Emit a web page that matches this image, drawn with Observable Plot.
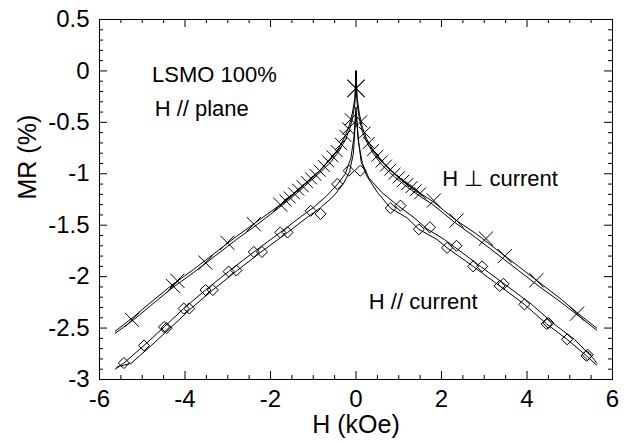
<!DOCTYPE html>
<html>
<head>
<meta charset="utf-8">
<script src="https://cdn.jsdelivr.net/npm/d3@7"></script>
<script src="https://cdn.jsdelivr.net/npm/@observablehq/plot@0.6"></script>
<style>
  html, body { margin: 0; padding: 0; background: #fff; }
  #chart svg { display: block; }
</style>
</head>
<body>
<div id="chart"></div>
<script>
// ---- Data ----
// H ⊥ current, sweep A
const perpAx = [-5.63,-5.2,-4.8,-4.3,-3.8,-3.3,-2.8,-2.3,-1.8,-1.5,-1.2,-0.9,-0.6,-0.4,-0.25,-0.15,-0.08,-0.03,0,0.03,0.08,0.15,0.25,0.4,0.6,0.9,1.2,1.5,1.8,2.3,2.8,3.3,3.8,4.3,4.8,5.2,5.63];
const perpAy = [-2.53,-2.39,-2.25,-2.08,-1.93,-1.77,-1.61,-1.46,-1.31,-1.21,-1.10,-0.99,-0.86,-0.75,-0.63,-0.52,-0.40,-0.27,-0.02,-0.27,-0.42,-0.55,-0.66,-0.77,-0.88,-1.00,-1.10,-1.19,-1.27,-1.44,-1.58,-1.74,-1.90,-2.06,-2.22,-2.36,-2.50];
// H ⊥ current, sweep B
const perpBx = [-5.63,-5.2,-4.8,-4.3,-3.8,-3.3,-2.8,-2.3,-1.8,-1.5,-1.2,-0.9,-0.6,-0.4,-0.25,-0.15,-0.08,-0.03,0,0.03,0.08,0.15,0.25,0.4,0.6,0.9,1.2,1.5,1.8,2.3,2.8,3.3,3.8,4.3,4.8,5.2,5.63];
const perpBy = [-2.55,-2.42,-2.28,-2.11,-1.96,-1.80,-1.64,-1.49,-1.33,-1.23,-1.12,-1.01,-0.89,-0.78,-0.67,-0.57,-0.46,-0.33,-0.17,-0.33,-0.47,-0.59,-0.69,-0.80,-0.91,-1.03,-1.13,-1.22,-1.30,-1.47,-1.62,-1.78,-1.94,-2.10,-2.25,-2.38,-2.52];
// H ⊥ current markers (×): sparse outer ones, dense inner ones
const perpSx = [-5.24,-4.28,-4.18,-3.52,-3.01,-2.39,-1.77,1.82,2.35,3.04,3.48,4.22,5.17];
const perpSy = [-2.42,-2.09,-2.04,-1.865,-1.67,-1.49,-1.30,-1.26,-1.455,-1.63,-1.80,-2.035,-2.36];
const perpDx = [-1.65,-1.55,-1.45,-1.35,-1.25,-1.15,-1.05,-0.95,-0.85,-0.75,-0.65,-0.55,-0.45,-0.35,-0.25,-0.18,-0.12,0.12,0.2,0.3,0.4,0.5,0.6,0.7,0.8,0.9,1.0,1.1,1.2,1.3,1.4,1.5];
const perpDy = [-1.26,-1.23,-1.19,-1.155,-1.12,-1.08,-1.045,-1.01,-0.97,-0.925,-0.88,-0.83,-0.78,-0.71,-0.63,-0.56,-0.47,-0.49,-0.60,-0.70,-0.77,-0.825,-0.88,-0.92,-0.96,-1.0,-1.035,-1.07,-1.10,-1.13,-1.16,-1.19];
const peakX = [0];
const peakY = [-0.17];

// H // current, sweep A
const parAx = [-5.63,-5.43,-4.96,-4.49,-4.03,-3.52,-2.98,-2.39,-1.77,-1.3,-1.0,-0.7,-0.45,-0.25,-0.12,-0.05,0,0.05,0.12,0.25,0.5,0.81,1.2,1.47,1.9,2.13,2.74,3.36,3.94,4.46,4.94,5.39,5.63];
const parAy = [-2.90,-2.84,-2.67,-2.49,-2.31,-2.13,-1.95,-1.76,-1.57,-1.42,-1.33,-1.22,-1.11,-1.00,-0.85,-0.65,-0.35,-0.65,-0.88,-1.02,-1.18,-1.335,-1.43,-1.54,-1.64,-1.72,-1.90,-2.09,-2.27,-2.46,-2.61,-2.77,-2.86];
// H // current, sweep B
const parBx = [-5.6,-5.25,-4.79,-4.32,-3.86,-3.35,-2.81,-2.22,-1.6,-1.13,-0.83,-0.53,-0.3,-0.15,-0.06,0,0.06,0.15,0.3,0.6,0.98,1.37,1.64,2.07,2.30,2.91,3.53,4.11,4.63,5.11,5.56,5.63];
const parBy = [-2.88,-2.84,-2.67,-2.49,-2.31,-2.13,-1.95,-1.76,-1.57,-1.42,-1.33,-1.22,-1.10,-0.98,-0.80,-0.40,-0.70,-0.90,-1.04,-1.18,-1.31,-1.43,-1.53,-1.64,-1.71,-1.90,-2.09,-2.27,-2.46,-2.61,-2.80,-2.84];
// H // current markers (◇)
const parMx = [-5.43,-4.96,-4.49,-4.43,-4.03,-3.90,-3.52,-3.35,-2.98,-2.80,-2.39,-2.20,-1.77,-1.60,-1.06,-0.83,-0.44,-0.17,0.10,0.81,1.04,1.47,1.73,2.13,2.35,2.74,2.95,3.36,3.45,3.94,4.46,4.50,4.94,5.39,5.42];
const parMy = [-2.84,-2.67,-2.49,-2.50,-2.31,-2.31,-2.13,-2.13,-1.95,-1.94,-1.76,-1.76,-1.57,-1.57,-1.36,-1.39,-1.10,-0.97,-0.97,-1.335,-1.31,-1.54,-1.52,-1.72,-1.70,-1.90,-1.90,-2.09,-2.07,-2.27,-2.46,-2.45,-2.61,-2.77,-2.76];

// Axis ticks and labels
const xMajor = [-6,-4,-2,0,2,4,6];
const xMinor = [-5.5,-5,-4.5,-3.5,-3,-2.5,-1.5,-1,-0.5,0.5,1,1.5,2.5,3,3.5,4.5,5,5.5];
const yMajor = [0.5,0,-0.5,-1,-1.5,-2,-2.5,-3];
const yMinor = [0.4,0.3,0.2,0.1,-0.1,-0.2,-0.3,-0.4,-0.6,-0.7,-0.8,-0.9,-1.1,-1.2,-1.3,-1.4,-1.6,-1.7,-1.8,-1.9,-2.1,-2.2,-2.3,-2.4,-2.6,-2.7,-2.8,-2.9];
const xTitle = "H (kOe)";
const yTitle = "MR (%)";
const noteText = ["LSMO 100%", "H // plane", "H \u22A5 current", "H // current"];
const noteX = [-4.77, -4.71, 2.02, 0.30];
const noteY = [-0.111, -0.436, -1.118, -2.31];

// ---- Build ----
const pts = (xs, ys) => xs.map((x, i) => ({x, y: ys[i]}));
const perpA = pts(perpAx, perpAy), perpB = pts(perpBx, perpBy);
const parA = pts(parAx, parAy), parB = pts(parBx, parBy);
const perpS = pts(perpSx, perpSy), perpD = pts(perpDx, perpDy);
const parM = pts(parMx, parMy), peak = pts(peakX, peakY);
const notes = noteText.map((t, i) => ({t, x: noteX[i], y: noteY[i]}));

const W = 629, H = 442;
const mL = 99, mR = 17, mT = 19, mB = 63;
const fw = W - mL - mR, fh = H - mT - mB;
const font = "'Liberation Sans', Arial, Helvetica, sans-serif";

const chart = Plot.plot({
  width: W, height: H,
  marginLeft: mL, marginRight: mR, marginTop: mT, marginBottom: mB,
  style: {fontFamily: font, background: "white", color: "black", overflow: "visible"},
  x: {domain: [-6, 6], axis: null},
  y: {domain: [-3, 0.5], axis: null},
  marks: [
    Plot.line(perpA, {x: "x", y: "y", stroke: "black", strokeWidth: 1}),
    Plot.line(perpB, {x: "x", y: "y", stroke: "black", strokeWidth: 1}),
    Plot.line(parA, {x: "x", y: "y", stroke: "black", strokeWidth: 1}),
    Plot.line(parB, {x: "x", y: "y", stroke: "black", strokeWidth: 1}),
    Plot.ruleX(peakX, {x: d => d, y1: peakY[0], y2: 0, stroke: "black", strokeWidth: 2}),
    Plot.dot(perpS, {x: "x", y: "y", symbol: "times", r: 6.5, stroke: "black", strokeWidth: 1, fill: "none"}),
    Plot.dot(perpD, {x: "x", y: "y", symbol: "times", r: 5.5, stroke: "black", strokeWidth: 1, fill: "none"}),
    Plot.dot(peak, {x: "x", y: "y", symbol: "times", r: 8, stroke: "black", strokeWidth: 1.2, fill: "none"}),
    Plot.dot(parM, {x: "x", y: "y", symbol: "diamond2", r: 5, stroke: "black", strokeWidth: 1, fill: "none"}),
    Plot.frame({stroke: "black", strokeWidth: 1}),
    Plot.tickY(yMajor, {y: d => d, insetRight: fw - 8, stroke: "black"}),
    Plot.tickY(yMinor, {y: d => d, insetRight: fw - 4, stroke: "black"}),
    Plot.tickY(yMajor, {y: d => d, insetLeft: fw - 8, stroke: "black"}),
    Plot.tickY(yMinor, {y: d => d, insetLeft: fw - 4, stroke: "black"}),
    Plot.tickX(xMajor, {x: d => d, insetTop: fh - 8, stroke: "black"}),
    Plot.tickX(xMinor, {x: d => d, insetTop: fh - 4, stroke: "black"}),
    Plot.tickX(xMajor, {x: d => d, insetBottom: fh - 8, stroke: "black"}),
    Plot.tickX(xMinor, {x: d => d, insetBottom: fh - 4, stroke: "black"}),
    Plot.text(yMajor, {y: d => d, frameAnchor: "left", text: d => String(d), textAnchor: "end", dx: -10, fontSize: 24, fill: "black"}),
    Plot.text(xMajor, {x: d => d, frameAnchor: "bottom", text: d => String(d), lineAnchor: "top", dy: 10, fontSize: 24, fill: "black"}),
    Plot.text([xTitle], {frameAnchor: "bottom", text: d => d, lineAnchor: "top", dy: 36, fontSize: 25, fill: "black"}),
    Plot.text([yTitle], {frameAnchor: "left", text: d => d, rotate: -90, dx: -72, fontSize: 25, fill: "black"}),
    Plot.text(notes, {x: "x", y: "y", text: "t", textAnchor: "start", lineAnchor: "bottom", fontSize: 22, fill: "black"})
  ]
});
document.getElementById("chart").appendChild(chart);
</script>
</body>
</html>
